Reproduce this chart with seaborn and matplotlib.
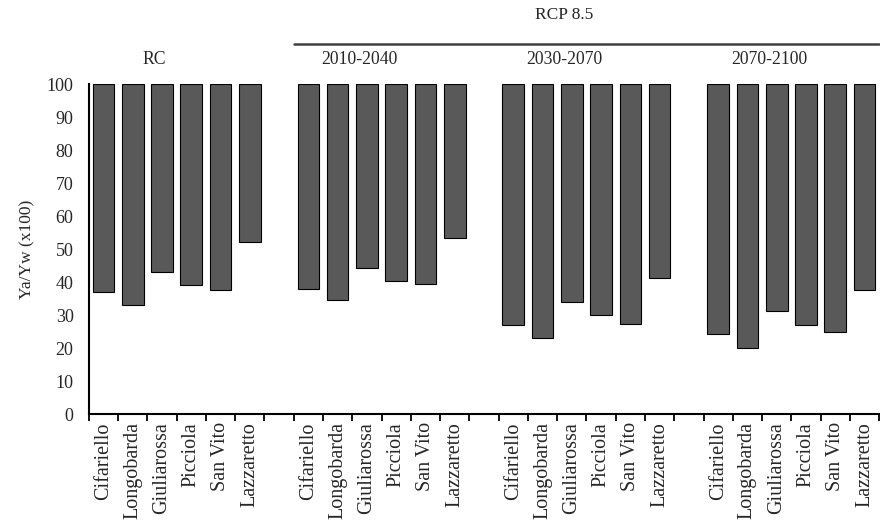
import matplotlib
matplotlib.use("Agg")
import matplotlib.pyplot as plt
import matplotlib.transforms as mtransforms
import numpy as np
import pandas as pd
import seaborn as sns

# data
sites = ["Cifariello", "Longobarda", "Giuliarossa", "Picciola", "San Vito", "Lazzaretto"]
periods = ["RC", "2010-2040", "2030-2070", "2070-2100"]
rc = [37.0, 33.0, 43.0, 39.0, 37.5, 52.0]
p2010_2040 = [37.8, 34.5, 44.2, 40.2, 39.3, 53.3]
p2030_2070 = [27.0, 23.0, 33.8, 30.1, 27.2, 41.2]
p2070_2100 = [24.3, 20.0, 31.2, 27.1, 24.9, 37.5]
top_value = 100

rows = []
for g, (period, vals) in enumerate(zip(periods, [rc, p2010_2040, p2030_2070, p2070_2100])):
    for s, (site, v) in enumerate(zip(sites, vals)):
        rows.append({"period": period, "site": site, "pos": g * 7 + s, "value": v})
df = pd.DataFrame(rows)
df["span"] = top_value - df["value"]

sns.set_style("white")
plt.rcParams["font.family"] = ["Liberation Serif", "DejaVu Serif"]

fig = plt.figure(figsize=(8.8, 5.27), dpi=100)
ax = fig.add_axes([0.101, 0.2144, 0.898, 0.6262])

sns.barplot(data=df, x="pos", y="span", native_scale=True, width=0.74,
            color="#595959", saturation=1, edgecolor="black", linewidth=0.8,
            bottom=df["value"].values, errorbar=None, ax=ax)

ax.set_xlim(-0.5, 26.5)
ax.set_ylim(0, 100)
ax.set_yticks(np.arange(0, 101, 10))
ax.tick_params(axis="y", length=0, labelsize=13, pad=11)

n_slots = 27
ax.set_xticks(np.arange(n_slots + 1) - 0.5, [""] * (n_slots + 1))
ax.set_xticks(df["pos"], df["site"], minor=True, rotation=90)
ax.tick_params(axis="x", which="major", bottom=True, direction="out", length=5,
               width=1.3, color="black")
ax.tick_params(axis="x", which="minor", bottom=True, length=0, labelsize=14.5, pad=6)
ax.set_xlabel("")
ax.set_ylabel("Ya/Yw (x100)", fontsize=12.5, labelpad=8)

for side in ["top", "right"]:
    ax.spines[side].set_visible(False)
for side in ["left", "bottom"]:
    ax.spines[side].set_color("black")
    ax.spines[side].set_linewidth(1.5)

trans = mtransforms.blended_transform_factory(ax.transData, ax.transAxes)
for g, period in enumerate(periods):
    ax.text(g * 7 + 1.75, 1.073, period, transform=trans, ha="center", va="center",
            fontsize=12.7)
ax.plot([6.5, 26.5], [1.121, 1.121], transform=trans, color="#404040", lw=1.8,
        clip_on=False)
ax.text(15.75, 1.209, "RCP 8.5", transform=trans, ha="center", va="center", fontsize=12.5)

fig.savefig("out.png", dpi=100)
